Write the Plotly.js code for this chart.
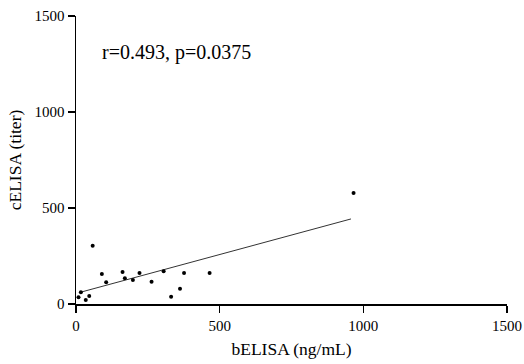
<!DOCTYPE html>
<html><head><meta charset="utf-8">
<script src="https://cdn.plot.ly/plotly-3.0.1.min.js"></script>
<style>html,body{margin:0;padding:0;background:#fff}#chart{width:524px;height:364px}</style>
</head><body><div id="chart"></div>
<script>
const bELISA = [8.7, 17, 34, 46, 58, 90, 105, 162, 170, 198, 221, 263, 305, 331, 362, 376, 465, 966];
const cELISA = [35, 61, 21, 42, 304, 156, 113, 167, 134, 125, 161, 116, 170, 38, 80, 161, 161, 578];
const fitX = [15, 957];
const fitY = [61, 443];
const tickVals = [0, 500, 1000, 1500];
const statText = "r=0.493, p=0.0375";

const font = {family: "Liberation Serif, Times New Roman, serif", color: "#000"};
const axisCommon = {
  range: [0, 1500], tickvals: tickVals, ticks: "outside", ticklen: 7, tickwidth: 1.3,
  tickcolor: "#000", showline: true, linecolor: "#000", linewidth: 1.5,
  showgrid: false, zeroline: false, tickfont: Object.assign({size: 15}, font)
};
Plotly.newPlot("chart", [
  {x: fitX, y: fitY, mode: "lines", line: {color: "#333", width: 1}, hoverinfo: "skip"},
  {x: bELISA, y: cELISA, mode: "markers", marker: {color: "#000", size: 4}}
], {
  width: 524, height: 364,
  margin: {l: 76, r: 17, t: 16, b: 60},
  showlegend: false,
  paper_bgcolor: "#fff", plot_bgcolor: "#fff",
  xaxis: Object.assign({}, axisCommon, {title: {text: "bELISA (ng/mL)", font: Object.assign({size: 17.5}, font), standoff: 10}}),
  yaxis: Object.assign({}, axisCommon, {title: {text: "cELISA (titer)", font: Object.assign({size: 17.5}, font), standoff: 8}}),
  annotations: [{x: 82, y: 1312, xref: "x", yref: "y", text: statText, showarrow: false,
    xanchor: "left", yanchor: "middle", font: Object.assign({size: 20}, font)}]
}, {staticPlot: true});
</script></body></html>
